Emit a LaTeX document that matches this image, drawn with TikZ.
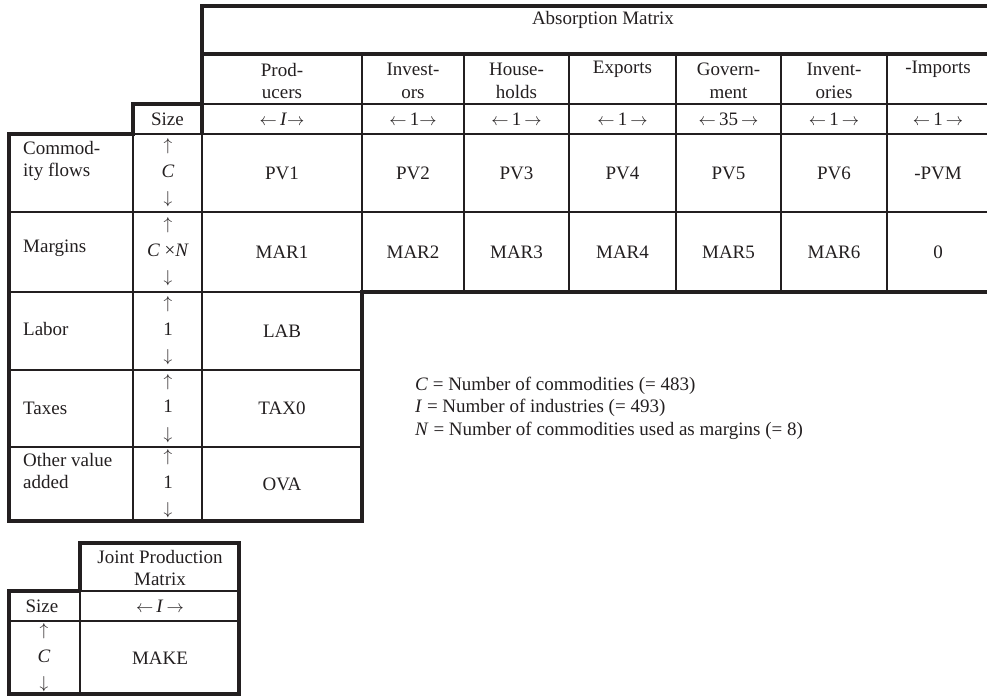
\documentclass[tikz,border=0pt]{standalone}
\usepackage{fontspec}
\setmainfont{Liberation Serif}
\definecolor{ink}{RGB}{35,31,32}
\newcommand{\la}{$\leftarrow$}
\newcommand{\ra}{$\rightarrow$}
\newcommand{\ua}{$\uparrow$}
\newcommand{\da}{$\downarrow$}
\begin{document}
\begin{tikzpicture}[x=1pt,y=-1pt,
  thk/.style={line width=3.4pt, draw=ink},
  thn/.style={line width=1.7pt, draw=ink},
  txt/.style={inner sep=0pt, text=ink, font=\fontsize{19}{22.5}\selectfont, align=center},
  lab/.style={txt, anchor=west, align=left},
  stk/.style={txt, font=\fontsize{19}{26.5}\selectfont}]
\useasboundingbox (0,0) rectangle (987,696);

% ---------- main table: thin grid ----------
\draw[thn] (202,104) -- (987,104);
\draw[thn] (133,134) -- (987,134);
\draw[thn] (9,212) -- (987,212);
\draw[thn] (9,292) -- (362,292);
\draw[thn] (9,370) -- (362,370);
\draw[thn] (9,447) -- (362,447);
\draw[thn] (133,134) -- (133,521);
\draw[thn] (202,134) -- (202,521);
\foreach \x in {362,464,569,676,781,887} \draw[thn] (\x,54) -- (\x,292);
% ---------- main table: thick outline ----------
\draw[thk] (987,6) -- (202,6) -- (202,134);
\draw[thk] (202,54) -- (987,54);
\draw[thk] (202,104) -- (133,104) -- (133,134) -- (9,134) -- (9,521) -- (362,521) -- (362,292) -- (987,292);

% ---------- header texts ----------
\node[txt] (title) at (603,20) {Absorption Matrix};
\node[txt] (h1) at (282,81) {Prod-\\ucers};
\node[txt] (h2) at (413,81) {Invest-\\ors};
\node[txt] (h3) at (516.5,81) {House-\\holds};
\node[txt] (h4) at (622.5,69) {Exports};
\node[txt] (h5) at (728.5,81) {Govern-\\ment};
\node[txt] (h6) at (834,81) {Invent-\\ories};
\node[txt] (h7) at (938,69) {-Imports};

\node[txt] (size) at (167.5,119) {Size};
\node[txt] (s1) at (282,119) {\la\,\textit{I}\ra};
\node[txt] (s2) at (413,119) {\la\,1\ra};
\node[txt] (s3) at (516.5,119) {\la\,1\,\ra};
\node[txt] (s4) at (622.5,119) {\la\,1\,\ra};
\node[txt] (s5) at (728.5,119) {\la\,35\,\ra};
\node[txt] (s6) at (834,119) {\la\,1\,\ra};
\node[txt] (s7) at (938,119) {\la\,1\,\ra};

% ---------- row labels ----------
\node[lab] (r1) at (23,161) {Commod-\\ity flows};
\node[lab] (r2) at (23,248) {Margins};
\node[lab] (r3) at (23,329) {Labor};
\node[lab] (r4) at (23,408) {Taxes};
\node[lab] (r5) at (23,471) {Other value\\added};

% ---------- size column ----------
\node[stk] (z1) at (168,173) {\ua\\\textit{C}\\\da};
\node[stk] (z2) at (168,252) {\ua\\\textit{C} ×\textit{N}\\\da};
\node[stk] (z3) at (168,331) {\ua\\1\\\da};
\node[stk] (z4) at (168,408.5) {\ua\\1\\\da};
\node[stk] (z5) at (168,484) {\ua\\1\\\da};

% ---------- cells ----------
\node[txt] (pv1) at (282,173) {PV1};
\node[txt] (pv2) at (413,173) {PV2};
\node[txt] (pv3) at (516.5,173) {PV3};
\node[txt] (pv4) at (622.5,173) {PV4};
\node[txt] (pv5) at (728.5,173) {PV5};
\node[txt] (pv6) at (834,173) {PV6};
\node[txt] (pvm) at (938,173) {-PVM};
\node[txt] (m1) at (282,252) {MAR1};
\node[txt] (m2) at (413,252) {MAR2};
\node[txt] (m3) at (516.5,252) {MAR3};
\node[txt] (m4) at (622.5,252) {MAR4};
\node[txt] (m5) at (728.5,252) {MAR5};
\node[txt] (m6) at (834,252) {MAR6};
\node[txt] (m7) at (938,252) {0};
\node[txt] (lab) at (282,331) {LAB};
\node[txt] (tax) at (282,408.5) {TAX0};
\node[txt] (ova) at (282,484) {OVA};

% ---------- legend ----------
\node[lab] (legend) at (415,408) {\textit{C} = Number of commodities (= 483)\\\textit{I} = Number of industries (= 493)\\\textit{N} = Number of commodities used as margins (= 8)};

% ---------- joint production matrix ----------
\draw[thn] (80,591) -- (239,591);
\draw[thn] (9,621) -- (239,621);
\draw[thn] (80,591) -- (80,694);
\draw[thk] (80,591) -- (80,543) -- (239,543) -- (239,694) -- (9,694) -- (9,591) -- (80,591);

\node[txt] (jp) at (160,568) {Joint Production\\Matrix};
\node[txt] (jsize) at (42,606) {Size};
\node[txt] (jI) at (160,606) {\la\,\textit{I}\,\ra};
\node[stk] (jz) at (44,658) {\ua\\\textit{C}\\\da};
\node[txt] (make) at (160,658) {MAKE};
\end{tikzpicture}
\end{document}
